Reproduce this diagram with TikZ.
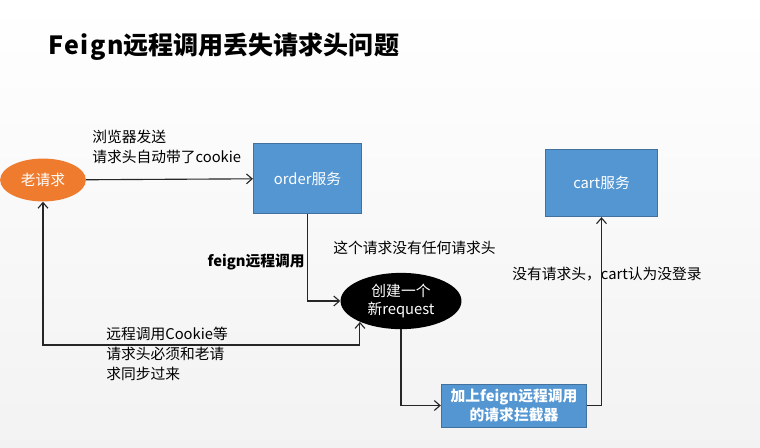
\documentclass[tikz,border=0pt]{standalone}
\usepackage{fontspec}
\setmainfont{Noto Sans CJK SC}
\usetikzlibrary{shapes.geometric, arrows.meta}

\definecolor{svcblue}{HTML}{5496D2}
\definecolor{svcedge}{HTML}{41719C}
\definecolor{oldorange}{HTML}{EF7B2E}

\tikzset{
	svc/.style={draw=svcedge, fill=svcblue, text=white, line width=0.6pt},
	txt/.style={anchor=west, inner sep=0pt, align=left, font=\fontsize{10.5}{14}\selectfont},
	link/.style={draw=black!85, line width=0.8pt, arrows={-Straight Barb[length=4pt, width=7pt]}},
}

\begin{document}
\begin{tikzpicture}[x=0.025cm, y=-0.025cm]
	\useasboundingbox (0,0) rectangle (760,447);
	\fill[top color=white, bottom color=gray!10] (0,0) rectangle (760,447);
	
	% title
	\node[anchor=west, inner sep=0pt, font=\fontsize{17.8}{20}\selectfont\bfseries] (title) at (48,47) {{\addfontfeature{LetterSpace=6}Feign}远程调用丢失请求头问题};
	
	% services
	\node[ellipse, fill=oldorange, text=white, minimum width=61pt, minimum height=30.5pt, inner sep=1pt, font=\fontsize{10.5}{14}\selectfont] (old) at (43,180) {老请求};
	\node[svc, minimum width=77pt, minimum height=50pt, font=\fontsize{10.5}{14}\selectfont] (order) at (307.5,178.5) {order服务};
	\node[svc, minimum width=80pt, minimum height=48pt, font=\fontsize{10.5}{14}\selectfont] (cart) at (601.5,183) {cart服务};
	\node[ellipse, fill=black, text=white, minimum width=86pt, minimum height=40pt, inner sep=1pt, align=center, font=\fontsize{10.5}{13}\selectfont] (newreq) at (401,301) {创建一个\\新request};
	\node[svc, minimum width=103.5pt, minimum height=30.5pt, inner sep=1pt, align=center, font=\fontsize{10.5}{13}\selectfont\bfseries] (icpt) at (514,405.5) {加上feign远程调用\\的请求拦截器};
	
	% labels
	\node[txt] (lsend) at (92,147) {浏览器发送\\请求头自动带了cookie};
	\node[txt, anchor=east, font=\fontsize{10.5}{14}\selectfont\bfseries] (lfeign) at (305,262) {feign远程调用};
	\node[txt] (lnone) at (333,248) {这个请求没有任何请求头};
	\node[txt] (lcart) at (512,274) {没有请求头，cart认为没登录};
	\node[txt] (lsync) at (106,354) {远程调用Cookie等\\请求头必须和老请\\求同步过来};
	
	% connectors
	\coordinate (loop) at (0,345);
	\draw[link] (old) -- (order);
	\draw[link] (order.south) |- (newreq.west);
	\draw[link, arrows={Straight Barb[length=4pt, width=7pt]-Straight Barb[length=4pt, width=7pt]}] (old.south) |- (newreq.207 |- loop) -- (newreq.207);
	\draw[link] (newreq.south) |- (icpt.west);
	\draw[link] (icpt.east) -| (cart.south);
\end{tikzpicture}
\end{document}
